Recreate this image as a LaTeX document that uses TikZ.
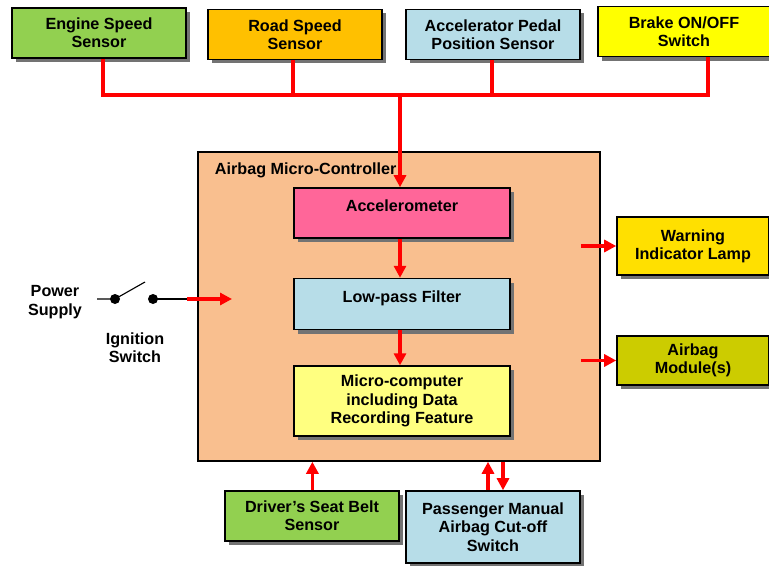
\documentclass[tikz,border=0pt]{standalone}
\usepackage{fontspec}
\setmainfont{Liberation Sans}
\usetikzlibrary{positioning, arrows.meta, calc, shadows}
\definecolor{leaf}{HTML}{92D050}
\definecolor{amberbox}{HTML}{FFC000}
\definecolor{sky}{HTML}{B7DDE8}
\definecolor{lemon}{HTML}{FFFF00}
\definecolor{peach}{HTML}{F9BF8F}
\definecolor{rose}{HTML}{FF6699}
\definecolor{cream}{HTML}{FFFF80}
\definecolor{gold}{HTML}{FFE000}
\definecolor{olive}{HTML}{CCCC00}
\begin{document}
\begin{tikzpicture}[
      box/.style={draw=black, line width=1.1pt, text=black, align=center,
        font=\fontsize{11.5}{13}\selectfont\bfseries,
        minimum width=4.35cm, minimum height=1.25cm,
        drop shadow={shadow xshift=0.1cm, shadow yshift=-0.1cm,
          fill=black!55, opacity=1}},
      inner/.style={box, minimum width=5.4cm},
      wire/.style={red, line width=2.2pt},
      pfeil/.style={-{Triangle[length=3mm, width=3mm]}, red, line width=2.2pt}]
    \useasboundingbox (0,0) rectangle (19.225,-14.15);
    % sensors on top
    \node[box, fill=leaf] (engine) at (2.475,-0.825) {Engine Speed\\Sensor};
    \node[box, fill=amberbox] (road) at (7.375,-0.8625) {Road Speed\\Sensor};
    \node[box, fill=sky] (pedal) at (12.325,-0.8625) {Accelerator Pedal\\Position Sensor};
    \node[box, fill=lemon, minimum width=4.3cm] (brake) at (17.1,-0.79) {Brake ON/OFF\\Switch};
    % controller
    \node[draw=black, line width=1.1pt, fill=peach, minimum width=10.05cm,
      minimum height=7.725cm] (ctrl) at (9.975,-7.6625) {};
    \node[font=\fontsize{11.5}{13}\selectfont\bfseries, anchor=west] (title)
      at (5.25,-4.25) {Airbag Micro-Controller};
    \node[inner, fill=rose, text depth=0.35cm] (acc) at (10.05,-5.325) {Accelerometer};
    \node[inner, fill=sky, text depth=0.35cm, minimum height=1.275cm,
      below=0.975cm of acc] (lpf) {Low-pass Filter};
    \node[inner, fill=cream, minimum height=1.75cm, below=0.875cm of lpf] (mcu)
      {Micro-computer\\including Data\\Recording Feature};
    % outputs
    \node[box, fill=gold, minimum width=3.8cm, minimum height=1.45cm] (lamp)
      at (17.325,-6.15) {Warning\\Indicator Lamp};
    \node[box, fill=olive, minimum width=3.8cm, minimum height=1.225cm] (module)
      at (17.325,-9.0125) {Airbag\\Module(s)};
    % bottom inputs
    \node[box, fill=leaf] (belt) at (7.8,-12.9) {Driver's Seat Belt\\Sensor};
    \node[box, fill=sky, minimum height=1.8cm] (cutoff) at (12.325,-13.175)
      {Passenger Manual\\Airbag Cut-off\\Switch};
    % bus
    \coordinate (bus) at (0,-2.375);
    \draw[wire] ([xshift=1mm]engine.south) |- ([xshift=6mm]brake.south |- bus)
      -- ([xshift=6mm]brake.south);
    \draw[wire] ([xshift=-0.5mm]road.south) -- ([xshift=-0.5mm]road.south |- bus);
    \draw[wire] ([xshift=-0.25mm]pedal.south) -- ([xshift=-0.25mm]pedal.south |- bus);
    \draw[pfeil] ([xshift=-0.5mm]acc.north |- bus) -- ([xshift=-0.5mm]acc.north);
    \draw[pfeil] ([xshift=-0.5mm]acc.south) -- ([xshift=-0.5mm]lpf.north);
    \draw[pfeil] ([xshift=-0.5mm]lpf.south) -- ([xshift=-0.5mm]mcu.north);
    \draw[pfeil] ([xshift=-5mm]lamp.west -| ctrl.east) -- (lamp.west);
    \draw[pfeil] ([xshift=-5mm]module.west -| ctrl.east) -- (module.west);
    \draw[pfeil] ([xshift=0.1mm]belt.north) -- ([xshift=0.1mm]belt.north |- ctrl.south);
    \draw[pfeil] ([xshift=-1.25mm]cutoff.north) -- ([xshift=-1.25mm]cutoff.north |- ctrl.south);
    \draw[pfeil] ([xshift=2.5mm]cutoff.north |- ctrl.south) -- ([xshift=2.5mm]cutoff.north);
    % ignition switch
    \node[font=\fontsize{11.5}{13}\selectfont\bfseries, align=center] (supply)
      at (1.375,-7.55) {Power\\Supply};
    \node[font=\fontsize{11.5}{13}\selectfont\bfseries, align=center] (ign)
      at (3.375,-8.7) {Ignition\\Switch};
    \fill (2.875,-7.475) circle (0.125) coordinate (swa);
    \fill (3.825,-7.475) circle (0.125) coordinate (swb);
    \coordinate (cin) at (2.425,-7.475);
    \coordinate (cout) at (4.675,-7.475);
    \draw[line width=0.8pt] (cin) -- (swa) -- (3.625,-7.05);
    \draw[line width=0.8pt] (swb) -- (cout);
    \draw[pfeil] (cout) -- (5.8,-7.475);
  \end{tikzpicture}
\end{document}
